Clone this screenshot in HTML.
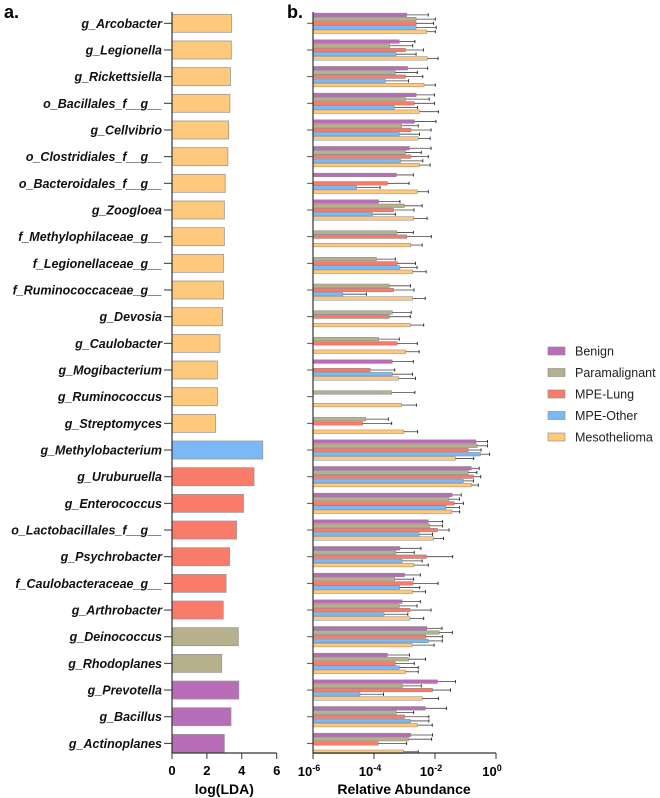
<!DOCTYPE html>
<html><head><meta charset="utf-8"><style>
html,body{margin:0;padding:0;background:#fff}
svg{display:block;font-family:"Liberation Sans",Arial,sans-serif}
</style></head><body>
<svg id="c" width="660" height="798" viewBox="0 0 660 798" xmlns="http://www.w3.org/2000/svg"></svg>
<script>
const taxa=["g_Arcobacter","g_Legionella","g_Rickettsiella","o_Bacillales_f__g__","g_Cellvibrio","o_Clostridiales_f__g__","o_Bacteroidales_f__g__","g_Zoogloea","f_Methylophilaceae_g__","f_Legionellaceae_g__","f_Ruminococcaceae_g__","g_Devosia","g_Caulobacter","g_Mogibacterium","g_Ruminococcus","g_Streptomyces","g_Methylobacterium","g_Uruburuella","g_Enterococcus","o_Lactobacillales_f__g__","g_Psychrobacter","f_Caulobacteraceae_g__","g_Arthrobacter","g_Deinococcus","g_Rhodoplanes","g_Prevotella","g_Bacillus","g_Actinoplanes"];
const ldaValues=[3.42,3.4,3.35,3.32,3.25,3.2,3.05,3.0,3.0,2.95,2.95,2.9,2.75,2.6,2.6,2.5,5.2,4.7,4.1,3.7,3.3,3.1,2.94,3.8,2.85,3.83,3.38,3.0];
const ldaGroup=[4,4,4,4,4,4,4,4,4,4,4,4,4,4,4,4,3,2,2,2,2,2,2,1,1,0,0,0];
const groups=["Benign","Paramalignant","MPE-Lung","MPE-Other","Mesothelioma"];
const ldaTicks=[0,2,4,6];
const absTicks=[-6,-4,-2,0];
// log10 relative abundance means (null = absent)
const benignLog=[-2.93,-3.17,-2.90,-2.62,-2.68,-2.84,-3.27,-3.85,null,null,null,null,null,-3.40,null,null,-0.66,-0.81,-1.44,-2.22,-3.15,-3.0,-3.08,-2.27,-3.56,-1.92,-2.32,-2.80];
const paraLog=[-2.62,-3.48,-3.30,-2.97,-3.09,-2.97,null,-3.01,-3.25,-3.92,-3.50,-3.40,-3.85,null,-3.42,-4.27,-0.62,-0.91,-1.54,-2.17,-3.28,-3.32,-3.17,-1.86,-2.87,-3.07,-3.27,-2.87];
const lungLog=[-2.62,-2.97,-2.97,-2.68,-2.79,-2.79,-3.56,-3.36,-2.93,-3.24,-3.36,-3.50,-3.24,-4.12,null,-4.37,-0.91,-0.74,-1.37,-1.92,-2.28,-2.72,-2.82,-2.30,-3.30,-2.08,-3.0,-3.86];
const otherLog=[-2.62,-3.28,-3.63,-3.33,-3.17,-3.13,-4.57,-4.05,null,-3.15,-5.02,null,null,-3.40,null,null,-0.51,-1.07,-1.64,-2.52,-3.08,-3.16,-3.67,-2.22,-3.17,-4.46,-2.81,null];
const mesoLog=[-2.27,-2.25,-2.36,-2.51,-2.55,-2.52,-2.58,-2.70,-2.80,-2.73,-2.73,-2.81,-2.96,-3.20,-3.10,-3.03,-1.33,-0.81,-1.45,-2.05,-2.69,-2.74,-2.82,-2.75,-2.97,-2.42,-2.58,-3.03];
// log10 of mean+SD (upper error)
const benignErr=[-2.22,-2.66,-2.24,-2.02,-1.97,-2.13,-2.71,-3.15,null,null,null,null,null,-2.71,null,null,-0.28,-0.55,-1.14,-1.75,-2.46,-2.48,-2.48,-1.77,-2.84,-1.33,-1.62,-2.08];
const paraErr=[-1.99,-2.73,-2.58,-2.19,-2.55,-2.45,null,-2.42,-2.71,-3.30,-2.80,-2.78,-3.17,null,-2.66,-3.53,-0.28,-0.63,-1.20,-1.75,-2.68,-2.70,-2.59,-1.43,-2.31,-2.45,-2.70,-2.11];
const lungErr=[-2.05,-2.38,-2.40,-2.02,-2.13,-2.22,-2.85,-2.69,-2.12,-2.64,-2.69,-2.81,-2.58,-3.32,null,-3.42,-0.49,-0.50,-1.07,-1.54,-1.42,-1.90,-2.13,-1.76,-2.68,-1.49,-2.20,-2.93];
const otherErr=[-1.96,-2.62,-2.87,-2.57,-2.51,-2.40,-3.80,-3.30,null,-2.59,-4.25,null,null,-2.74,null,null,-0.21,-0.74,-1.20,-2.08,-2.42,-2.50,-2.89,-1.76,-2.55,-3.69,-2.20,null];
const mesoErr=[-1.99,-1.90,-1.99,-1.89,-2.16,-2.16,-2.22,-2.26,-2.42,-2.29,-2.32,-2.37,-2.52,-2.64,-2.61,-2.57,-0.73,-0.58,-1.19,-1.72,-2.22,-2.31,-2.37,-2.03,-2.55,-1.89,-2.09,-2.55];

const colors=["#b76db8","#b6b08c","#fb7b6b","#7ab8f6","#ffc97b"];
const means=[benignLog,paraLog,lungLog,otherLog,mesoLog];
const errs=[benignErr,paraErr,lungErr,otherErr,mesoErr];
const NS="http://www.w3.org/2000/svg";
const svg=document.getElementById('c');
function mk(t,a,p){const e=document.createElementNS(NS,t);for(const k in a)e.setAttribute(k,a[k]);(p||svg).appendChild(e);return e;}
const rowY=i=>23.3+26.67*i;
const xL=v=>172+v*17.45;
const xR=e=>313+(e+6)*30.5;
const axTop=12, axBot=753;

let t=mk('text',{x:4,y:18,'font-size':18,'font-weight':'bold'});t.textContent='a.';


t=mk('text',{x:287,y:18,'font-size':18,'font-weight':'bold'});t.textContent='b.';



// Panel a
taxa.forEach((name,i)=>{
  const y=rowY(i);
  const lb=mk('text',{x:162,y:y+4.5,'font-size':12.5,'font-weight':'bold','font-style':'italic','text-anchor':'end',fill:'#111'});
  lb.textContent=name;
  
  
  mk('line',{x1:164,x2:172,y1:y,y2:y,stroke:'#333','stroke-width':1});
  const b=mk('rect',{x:xL(0),y:y-9,width:xL(ldaValues[i])-xL(0),height:18,fill:colors[ldaGroup[i]],stroke:'#999','stroke-width':0.8});
  
  
});
mk('line',{x1:172,x2:172,y1:axTop,y2:axBot,stroke:'#333','stroke-width':1.2});
mk('line',{x1:172,x2:xL(6),y1:axBot,y2:axBot,stroke:'#333','stroke-width':1.2});
ldaTicks.forEach(v=>{
  mk('line',{x1:xL(v),x2:xL(v),y1:axBot,y2:axBot+6,stroke:'#333','stroke-width':1});
  const tl=mk('text',{x:xL(v),y:775,'font-size':13,'font-weight':'bold','text-anchor':'middle'});tl.textContent=v;
  
  
});
t=mk('text',{x:xL(3),y:794,'font-size':14,'font-weight':'bold','text-anchor':'middle'});t.textContent='log(LDA)';



// Panel b
taxa.forEach((name,i)=>{
  const y=rowY(i);
  mk('line',{x1:307,x2:313,y1:y,y2:y,stroke:'#555','stroke-width':1});
  for(let g=0;g<5;g++){
    const m=means[g][i]; if(m===null) continue;
    const by=y+(g-2)*4.2;
    const bar=mk('rect',{x:313,y:by-1.8,width:xR(m)-313,height:3.6,fill:colors[g],stroke:'#888','stroke-width':0.5});
    
    
    const e=errs[g][i];
    if(e!==null){
      mk('line',{x1:xR(m),x2:xR(e),y1:by,y2:by,stroke:'#444','stroke-width':0.8});
      mk('line',{x1:xR(e),x2:xR(e),y1:by-1.6,y2:by+1.6,stroke:'#222','stroke-width':0.9});
    }
  }
});
mk('line',{x1:313,x2:313,y1:axTop,y2:axBot,stroke:'#333','stroke-width':1.2});
mk('line',{x1:313,x2:xR(0),y1:axBot,y2:axBot,stroke:'#333','stroke-width':1.2});
absTicks.forEach(v=>{
  mk('line',{x1:xR(v),x2:xR(v),y1:axBot,y2:axBot+6,stroke:'#333','stroke-width':1});
  const tl=mk('text',{x:xR(v)-4,y:776,'font-size':13,'font-weight':'bold','text-anchor':'middle'});
  tl.textContent='10';
  const sp=mk('tspan',{dy:-5,'font-size':9},tl);sp.textContent=String(v);
  
  
});
t=mk('text',{x:404,y:794,'font-size':14,'font-weight':'bold','text-anchor':'middle'});t.textContent='Relative Abundance';



// legend
groups.forEach((g,k)=>{
  const y=351+21.5*k;
  const gEl=mk('g',{});
  
  
  mk('rect',{x:548,y:y-4,width:17,height:8,fill:colors[k],stroke:'#888','stroke-width':0.6},gEl);
  const tx=mk('text',{x:575,y:y+4.5,'font-size':12.5,fill:'#222'},gEl);tx.textContent=g;
});
</script>
</body></html>
